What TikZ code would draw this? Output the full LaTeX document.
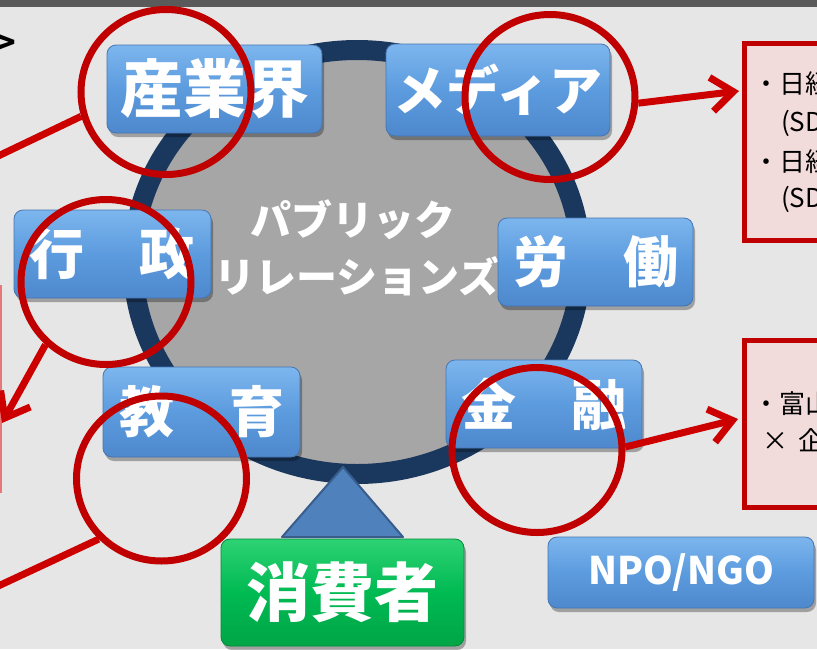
\documentclass[tikz,border=0pt]{standalone}
\usepackage{fontspec}
\setmainfont{Noto Sans CJK JP}
\newfontfamily\jp{Noto Sans CJK JP}
\usetikzlibrary{shapes.geometric,arrows.meta,shadows}
\definecolor{bg}{RGB}{230,230,230}
\definecolor{topbar}{RGB}{90,90,90}
\definecolor{ringc}{RGB}{26,56,94}
\definecolor{innerc}{RGB}{166,166,166}
\definecolor{boxtop}{RGB}{125,182,238}
\definecolor{boxmid}{RGB}{92,155,222}
\definecolor{boxbot}{RGB}{78,136,205}
\definecolor{boxedge}{RGB}{70,118,178}
\definecolor{gtop}{RGB}{45,210,115}
\definecolor{gmid}{RGB}{0,186,82}
\definecolor{gbot}{RGB}{0,165,70}
\definecolor{gedge}{RGB}{0,140,60}
\definecolor{trifill}{RGB}{79,129,189}
\definecolor{triedge}{RGB}{56,93,140}
\definecolor{redc}{RGB}{192,0,0}
\definecolor{redl}{RGB}{205,0,0}
\definecolor{pinkf}{RGB}{242,220,219}
\definecolor{pinkedge}{RGB}{230,120,120}
\begin{document}
\begin{tikzpicture}[x=1pt,y=-1pt,
  bluebox/.style={rounded corners=9pt, draw=boxedge, line width=0.8pt,
    top color=boxtop, bottom color=boxbot, middle color=boxmid,
    text=white, inner sep=0pt,
    drop shadow={shadow xshift=2pt, shadow yshift=-4pt, opacity=0.3, fill=black}},
  greenbox/.style={bluebox, draw=gedge, top color=gtop, bottom color=gbot, middle color=gmid},
  redring/.style={ellipse, draw=redc, line width=7pt, minimum width=170pt, minimum height=165pt, inner sep=0pt},
  redline/.style={draw=redl, line width=7pt},
  redarrow/.style={redline, -{Straight Barb[length=22pt,width=34pt]}},
  notebox/.style={draw=redc, fill=pinkf, line width=5pt, inner sep=0pt, anchor=north west},
  notetext/.style={font=\jp\fontsize{26}{26}\selectfont, text=black, anchor=base west, inner sep=0pt},
  bigfont/.style={font=\jp\bfseries\fontsize{#1}{#1}\selectfont}
]
\useasboundingbox (0,0) rectangle (817,649);
\clip (0,0) rectangle (817,649);
\fill[bg] (0,0) rectangle (817,649);
\fill[topbar] (0,0) rectangle (817,7);
\draw[draw=pinkedge, line width=1.5pt] (0.75,285) -- (0.75,493);
\node[anchor=base east, inner sep=0pt, text=black, font=\jp\bfseries\fontsize{32}{32}\selectfont] (gt) at (16,54) {>};

% central ring
\draw[ringc, line width=20pt, fill=innerc] (357,262) ellipse [x radius=224, y radius=212];
\node[bigfont=41, text=white, anchor=base] (pr1) at (353,235) {パブリック};
\node[bigfont=41, text=white, anchor=base] (pr2) at (357,292) {リレーションズ};

% triangle
\draw[fill=trifill, draw=triedge, line width=2pt, line join=round] (343,467) -- (403,537) -- (282,537) -- cycle;

% boxes
\node[bluebox, minimum width=215pt, minimum height=88pt, bigfont=63] (sangyo) at (214.5,89) {産業界};
\node[bluebox, minimum width=224pt, minimum height=92pt, bigfont=53] (media) at (498,90) {メディア};
\node[bluebox, minimum width=197pt, minimum height=88pt, bigfont=55] (gyosei) at (112.5,254) {行　政};
\node[bluebox, minimum width=195pt, minimum height=88pt, bigfont=55] (rodo) at (595.5,262) {労　働};
\node[bluebox, minimum width=197pt, minimum height=90pt, bigfont=55] (kyoiku) at (201.5,412) {教　育};
\node[bluebox, minimum width=196pt, minimum height=88pt, bigfont=55] (kinyu) at (544,404) {金　融};
\node[greenbox, minimum width=243pt, minimum height=107pt, bigfont=64] (shohi) at (342.5,592.5) {消費者};
\node[bluebox, minimum width=266pt, minimum height=71pt, bigfont=38] (npo) at (681,572.5) {NPO/NGO};

% note boxes
\node[notebox, minimum width=120pt, minimum height=197pt] (nb1) at (741.5,40.5) {};
\node[notebox, minimum width=120pt, minimum height=167pt] (nb2) at (741.5,337.5) {};
\node[notetext] (n1a) at (753,93) {・日経};
\node[notetext] (n1b) at (755,131) {　(SDGs};
\node[notetext] (n1c) at (753,171) {・日経};
\node[notetext] (n1d) at (755,207) {　(SDGs};
\node[notetext] (n2a) at (753,413) {・富山};
\node[notetext] (n2b) at (762,450) {×};
\node[notetext] (n2c) at (798,450) {企業};

% red rings
\node[redring] (c1) at (166,92) {};
\node[redring] (c2) at (550,97) {};
\node[redring] (c3) at (106,282) {};
\node[redring] (c4) at (161.5,478.5) {};
\node[redring] (c5) at (537,450) {};

% connectors
\coordinate (e1) at (-6,158);
\coordinate (e3) at (2,423);
\coordinate (e4) at (-6,588);
\coordinate (a1) at (739,91);
\coordinate (a2) at (738,419);
\draw[redline] (c1.196) -- (e1);
\draw[redarrow] (c3.226) -- (e3);
\draw[redline] (c4.224) -- (e4);
\draw[redarrow] (c2.-4) -- (a1);
\draw[redarrow] (c5.2) -- (a2);
\end{tikzpicture}
\end{document}
